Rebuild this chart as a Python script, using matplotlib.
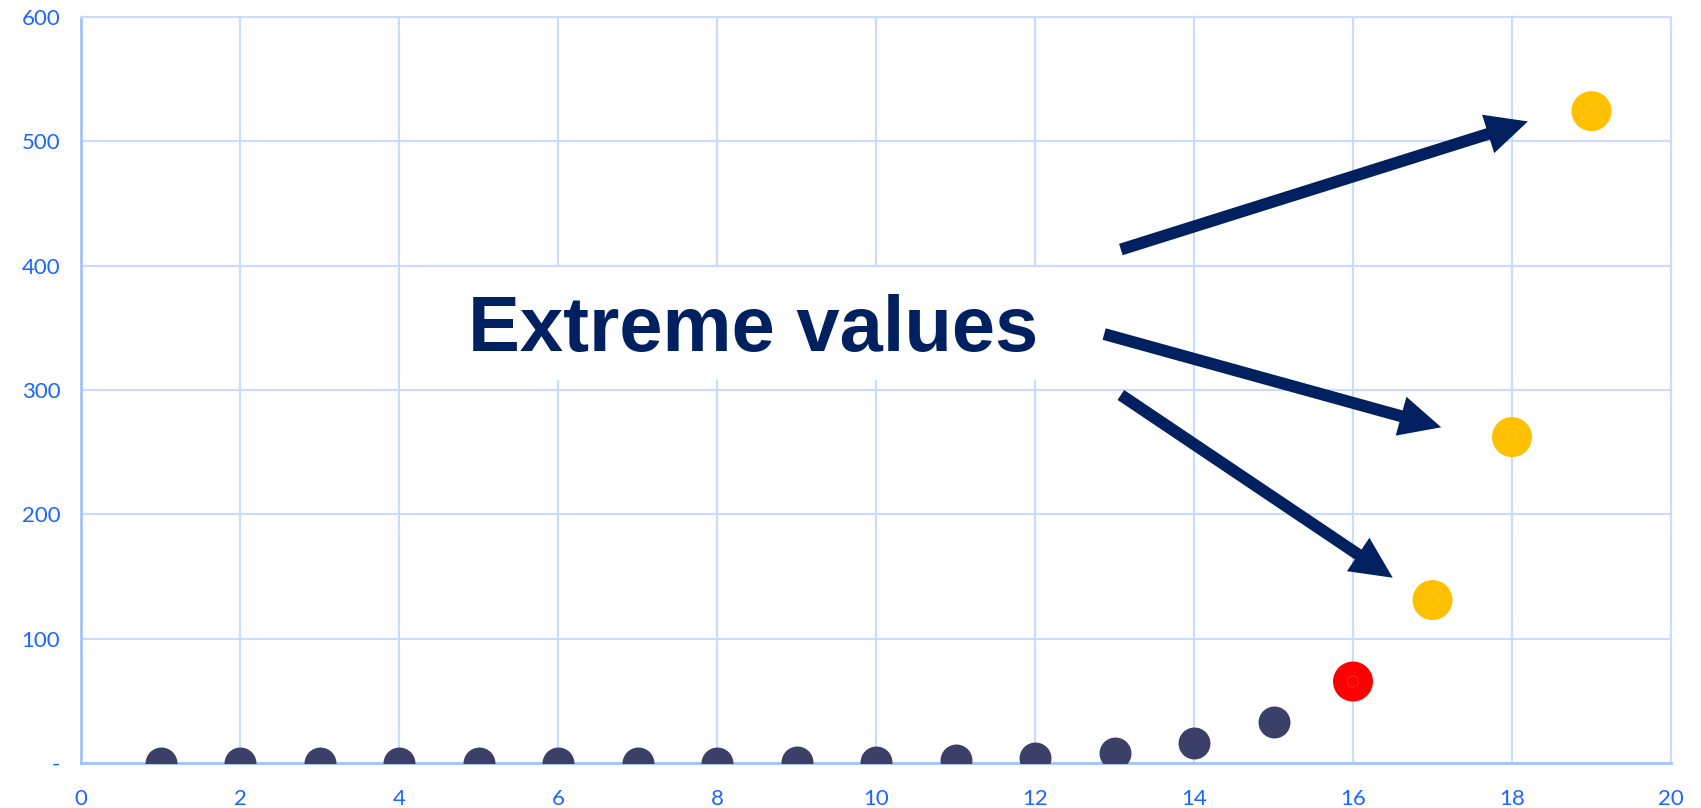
import matplotlib
matplotlib.use("Agg")
from matplotlib import pyplot as plt
from matplotlib.patches import Rectangle

# data
x_vals = [1, 2, 3, 4, 5, 6, 7, 8, 9, 10, 11, 12, 13, 14, 15, 16, 17, 18, 19]
y_vals = [0.002, 0.004, 0.008, 0.016, 0.032, 0.064, 0.128, 0.256, 0.512, 1.024,
          2.048, 4.096, 8.192, 16.384, 32.768, 65.536, 131.072, 262.144, 524.288]
normal_n = 15
outlier_colors = ['#ff0000', '#ffc000', '#ffc000', '#ffc000']
outlier_rings = ['#ff4040', '#ffd040', '#ffd040', '#ffd040']

x_ticks = [0, 2, 4, 6, 8, 10, 12, 14, 16, 18, 20]
y_ticks = [0, 100, 200, 300, 400, 500, 600]
y_tick_labels = ['-', '100', '200', '300', '400', '500', '600']

label_text = "Extreme values"
# arrows: (start, end) in data coords
arrows = [((13.08, 413), (18.20, 516)),
          ((12.87, 345), (17.11, 270)),
          ((13.08, 296), (16.50, 149))]

navy = '#002060'
tick_blue = '#1a66ff'
grid_blue = '#c9dbff'

fig = plt.figure(figsize=(17.01, 8.08), dpi=100)
ax = fig.add_axes([81 / 1701, 45 / 808, 1590 / 1701, 746 / 808])

ax.scatter(x_vals[:normal_n], y_vals[:normal_n], s=23 ** 2, c='#3c3f68',
           zorder=3, linewidths=0)
ax.scatter(x_vals[normal_n:], y_vals[normal_n:], s=28.8 ** 2, c=outlier_colors,
           zorder=3, linewidths=0)
ax.scatter(x_vals[normal_n:], y_vals[normal_n:], s=8 ** 2, facecolors='none',
           edgecolors=outlier_rings, linewidths=0.4, zorder=3)

ax.set_xlim(0, 20)
ax.set_ylim(0, 600)
ax.set_xticks(x_ticks)
ax.set_yticks(y_ticks)
ax.set_yticklabels(y_tick_labels)
ax.grid(True, color=grid_blue, linewidth=1.5, zorder=0)
ax.set_axisbelow(True)
for side in ['top', 'right']:
    ax.spines[side].set_color(grid_blue)
    ax.spines[side].set_linewidth(1.5)
for side in ['left', 'bottom']:
    ax.spines[side].set_color('#a4c2fa')
    ax.spines[side].set_linewidth(2)
ax.tick_params(length=0, labelsize=16, labelcolor=tick_blue)
ax.tick_params(axis='x', pad=19)
ax.tick_params(axis='y', pad=15)
for lbl in ax.get_xticklabels() + ax.get_yticklabels():
    lbl.set_fontfamily('Lato')

# white label box hiding the grid
ax.add_patch(Rectangle((4.23, 308), 12.29 - 4.23, 399 - 308, facecolor='white',
                       edgecolor='none', zorder=2))
ax.text(8.45, 331, label_text, fontsize=56, fontweight='bold', color=navy,
        family='Liberation Sans', ha='center', va='baseline', zorder=4)

for (x0, y0), (x1, y1) in arrows:
    ax.annotate('', xy=(x1, y1), xytext=(x0, y0), zorder=5,
                arrowprops=dict(arrowstyle='simple,head_length=3.0,head_width=2.9,tail_width=0.86',
                                mutation_scale=10, color=navy, linewidth=0,
                                shrinkA=0, shrinkB=0))

fig.savefig('out.png', dpi=100)
